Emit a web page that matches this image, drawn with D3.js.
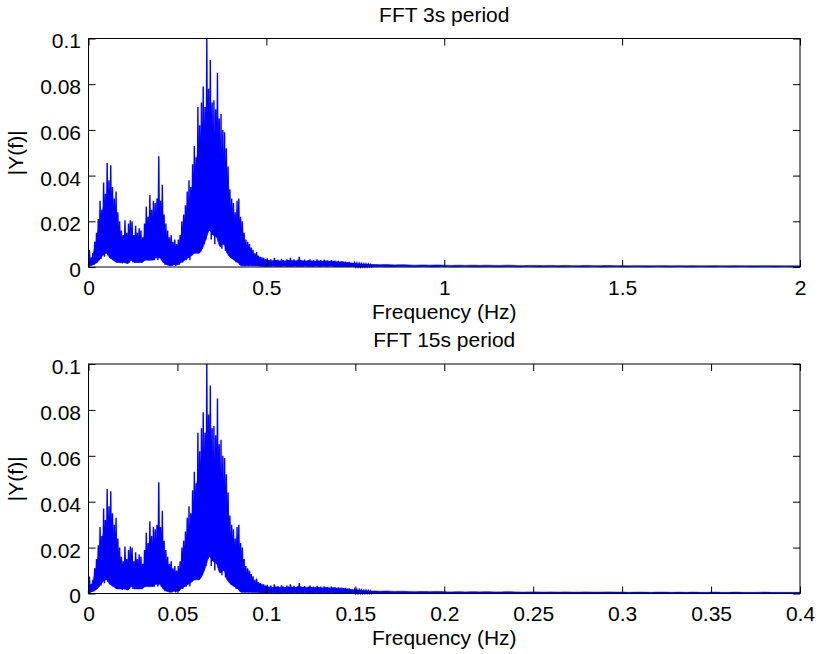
<!DOCTYPE html>
<html><head><meta charset="utf-8">
<script src="https://cdn.jsdelivr.net/npm/d3@7"></script>
<style>
body{margin:0;background:#fff}
text{font-family:"Liberation Sans",Arial,Helvetica,sans-serif;fill:#000}
</style></head><body>
<svg id="c" width="818" height="654"></svg>
<script>
// ---- data (3 s panel frequencies; the 15 s panel shows the same spectrum at 1/5 the frequency) ----
const coreStepHz = 0.005;   // bins 0 .. 0.795 Hz
const tailStepHz = 0.02;    // bins 0.80 .. 2.00 Hz
const bodyStepHz = 0.01;    // solid-band level, bins 0 .. 0.79 Hz
const corePeak = [
0.0074,0.0040,0.0060,0.0110,0.0150,0.0210,0.0290,0.0250,0.0370,0.0320,
0.0455,0.0380,0.0445,0.0350,0.0300,0.0330,0.0240,0.0200,0.0160,0.0140,
0.0205,0.0150,0.0190,0.0205,0.0200,0.0140,0.0180,0.0150,0.0170,0.0160,
0.0130,0.0190,0.0265,0.0220,0.0315,0.0250,0.0290,0.0280,0.0300,0.0485,
0.0290,0.0360,0.0230,0.0190,0.0160,0.0130,0.0140,0.0110,0.0120,0.0100,
0.0120,0.0140,0.0200,0.0230,0.0270,0.0330,0.0380,0.0350,0.0450,0.0530,
0.0480,0.0700,0.0620,0.0720,0.0790,0.0700,0.1000,0.0780,0.0906,0.0720,
0.0730,0.0690,0.0850,0.0650,0.0670,0.0600,0.0590,0.0520,0.0440,0.0340,
0.0300,0.0280,0.0240,0.0290,0.0300,0.0220,0.0200,0.0150,0.0120,0.0110,
0.0100,0.0085,0.0075,0.0060,0.0065,0.0050,0.0045,0.0042,0.0040,0.0035,
0.0038,0.0030,0.0034,0.0028,0.0040,0.0030,0.0032,0.0027,0.0036,0.0030,
0.0028,0.0034,0.0030,0.0040,0.0029,0.0033,0.0028,0.0031,0.0045,0.0030,
0.0029,0.0032,0.0027,0.0030,0.0034,0.0028,0.0030,0.0027,0.0033,0.0028,
0.0030,0.0026,0.0031,0.0028,0.0029,0.0026,0.0030,0.0027,0.0028,0.0025,
0.0027,0.0024,0.0026,0.0023,0.0024,0.0021,0.0022,0.0019,0.0018,0.0017,
0.0016,0.0015,0.0015,0.0014,0.0013,0.0013,0.0012,0.0012,0.0011,0.0011];
const coreFloor = [
0.0003,0.0005,0.0008,0.0010,0.0015,0.0020,0.0030,0.0035,0.0050,0.0045,
0.0060,0.0050,0.0040,0.0045,0.0030,0.0030,0.0020,0.0025,0.0020,0.0015,
0.0020,0.0020,0.0015,0.0020,0.0030,0.0020,0.0020,0.0030,0.0020,0.0025,
0.0020,0.0030,0.0030,0.0035,0.0030,0.0040,0.0030,0.0030,0.0040,0.0030,
0.0040,0.0030,0.0020,0.0010,0.0010,0.0015,0.0005,0.0005,0.0010,0.0005,
0.0010,0.0010,0.0020,0.0020,0.0030,0.0030,0.0040,0.0030,0.0050,0.0070,
0.0060,0.0080,0.0060,0.0070,0.0080,0.0100,0.0120,0.0150,0.0160,0.0120,
0.0140,0.0100,0.0130,0.0110,0.0090,0.0080,0.0100,0.0070,0.0060,0.0050,
0.0040,0.0050,0.0030,0.0020,0.0020,0.0010,0.0005,0.0010,0.0005,0.0010,
0.0005,0.0008,0.0005,0.0005,0.0005,0.0005,0.0004,0.0004,0.0003,0.0003,
0.0003,0.0004,0.0003,0.0003,0.0004,0.0003,0.0003,0.0004,0.0003,0.0003,
0.0004,0.0003,0.0003,0.0004,0.0003,0.0003,0.0004,0.0003,0.0003,0.0004,
0.0003,0.0003,0.0004,0.0003,0.0003,0.0004,0.0003,0.0003,0.0004,0.0003,
0.0003,0.0003,0.0004,0.0003,0.0003,0.0003,0.0004,0.0003,0.0003,0.0003,
0.0002,0.0003,0.0002,0.0002,0.0003,0.0002,0.0002,0.0002,0.0003,0.0002,
0.0002,0.0002,0.0002,0.0002,0.0002,0.0002,0.0002,0.0002,0.0002,0.0002];
const bodyLevel = [
0.0020,0.0045,0.0100,0.0180,0.0250,0.0300,0.0300,0.0230,0.0160,0.0120,
0.0120,0.0130,0.0120,0.0110,0.0110,0.0110,0.0140,0.0190,0.0210,0.0220,
0.0190,0.0130,0.0095,0.0085,0.0075,0.0075,0.0120,0.0170,0.0240,0.0330,
0.0430,0.0530,0.0600,0.0640,0.0620,0.0580,0.0520,0.0440,0.0360,0.0280,
0.0210,0.0160,0.0140,0.0110,0.0075,0.0055,0.0045,0.0038,0.0032,0.0030,
0.0026,0.0025,0.0025,0.0026,0.0025,0.0025,0.0026,0.0025,0.0025,0.0025,
0.0024,0.0023,0.0023,0.0024,0.0023,0.0023,0.0022,0.0022,0.0021,0.0020,
0.0019,0.0018,0.0017,0.0016,0.0014,0.0013,0.0012,0.0011,0.0010,0.0010];
const tailPeak = [
0.0011,0.0010,0.0011,0.0009,0.0010,0.0009,0.0008,0.0009,0.0008,0.0009,
0.0008,0.0007,0.0008,0.0007,0.0008,0.0007,0.0008,0.0007,0.0007,0.0008,
0.0007,0.0006,0.0007,0.0007,0.0006,0.0007,0.0006,0.0007,0.0006,0.0006,
0.0007,0.0006,0.0006,0.0007,0.0006,0.0006,0.0005,0.0006,0.0006,0.0005,
0.0006,0.0006,0.0005,0.0006,0.0005,0.0006,0.0005,0.0005,0.0006,0.0005,
0.0005,0.0006,0.0005,0.0005,0.0005,0.0006,0.0005,0.0005,0.0005,0.0005,
0.0005];
const tailFloor = [
0.0001,0.0002,0.0001,0.0001,0.0002,0.0001,0.0001,0.0002,0.0001,0.0001,
0.0002,0.0001,0.0001,0.0002,0.0001,0.0001,0.0002,0.0001,0.0001,0.0002,
0.0001,0.0001,0.0002,0.0001,0.0001,0.0002,0.0001,0.0001,0.0002,0.0001,
0.0001,0.0002,0.0001,0.0001,0.0002,0.0001,0.0001,0.0002,0.0001,0.0001,
0.0002,0.0001,0.0001,0.0002,0.0001,0.0001,0.0002,0.0001,0.0001,0.0002,
0.0001,0.0001,0.0002,0.0001,0.0001,0.0002,0.0001,0.0001,0.0002,0.0001,
0.0001];
const xTicks3s = [0, 0.5, 1, 1.5, 2];
const xTicks15s = [0, 0.05, 0.1, 0.15, 0.2, 0.25, 0.3, 0.35, 0.4];
const yTicks = [0, 0.02, 0.04, 0.06, 0.08, 0.1];
const titles = ["FFT 3s period", "FFT 15s period"];
const xMaxes = [2, 0.4];
const periodRatio = [1, 5];

// ---- build bins ----
const coreBins = corePeak.map((v, i) => ({f: i * coreStepHz, w: coreStepHz, hi: v, lo: coreFloor[i]}));
const tailBins = tailPeak.map((v, i) => ({f: 0.8 + i * tailStepHz, w: tailStepHz, hi: v, lo: tailFloor[i]}));
const bins = coreBins.concat(tailBins);
const body = bodyLevel.map((v, i) => ({f: i * bodyStepHz, hi: v, lo: coreFloor[2 * i]}))
  .concat(tailBins.map(b => ({f: b.f, hi: b.hi, lo: b.lo})));

const svg = d3.select("#c");
const L = 88.5, R = 800;
const panelsY = [[38.5, 267], [364, 593.5]];
const FS = 21;

panelsY.forEach(([top, bottom], p) => {
  const x = d3.scaleLinear().domain([0, xMaxes[p]]).range([L, R]);
  const y = d3.scaleLinear().domain([0, 0.1]).range([bottom, top]);
  const g = svg.append("g");
  const ticksX = p === 0 ? xTicks3s : xTicks15s;
  const fmt = d => String(+d.toFixed(2));
  const k = periodRatio[p];

  // solid part of the dense band
  g.append("path")
    .attr("d", d3.area().curve(d3.curveMonotoneX)
      .x(d => x(d.f / k)).y0(d => y(d.lo)).y1(d => y(d.hi))(body.filter(d => d.f / k <= xMaxes[p])))
    .attr("fill", "#0000ff").attr("stroke", "#0000ff").attr("stroke-width", 0.6);

  // spectrum as a dense zig-zag trace
  const pts = [];
  coreBins.forEach(b => {
    pts.push([b.f / k, b.lo]);
    pts.push([(b.f + b.w / 2) / k, b.hi]);
  });
  g.append("path")
    .attr("d", d3.line().x(d => x(d[0])).y(d => y(d[1]))(pts.filter(d => d[0] <= xMaxes[p])))
    .attr("fill", "none").attr("stroke", "#0000ff").attr("stroke-width", 1.4);

  // axes
  const ax = (gen, tr) => {
    const a = g.append("g").attr("transform", tr).call(gen);
    a.select(".domain").remove();
    a.selectAll("line").attr("stroke", "#000");
    a.selectAll("text").style("font-size", FS + "px").attr("fill", "#000");
    return a;
  };
  ax(d3.axisBottom(x).tickValues(ticksX).tickFormat(fmt).tickSizeInner(-7).tickSizeOuter(0).tickPadding(13),
     `translate(0,${bottom})`);
  ax(d3.axisTop(x).tickValues(ticksX).tickFormat("").tickSizeInner(-7).tickSizeOuter(0), `translate(0,${top})`);
  const ya = ax(d3.axisLeft(y).tickValues(yTicks).tickFormat(fmt).tickSizeInner(-7).tickSizeOuter(0).tickPadding(7.5),
     `translate(${L},0)`);
  ya.selectAll("text").attr("dy", "0.45em");
  ax(d3.axisRight(y).tickValues(yTicks).tickFormat("").tickSizeInner(-7).tickSizeOuter(0), `translate(${R},0)`);

  g.append("rect").attr("x", L).attr("y", top).attr("width", R - L).attr("height", bottom - top)
    .attr("fill", "none").attr("stroke", "#000").attr("stroke-width", 1);

  // labels
  const cx = (L + R) / 2;
  g.append("text").attr("x", cx).attr("y", top - 17).attr("text-anchor", "middle")
    .style("font-size", FS + "px").text(titles[p]);
  g.append("text").attr("x", cx).attr("y", bottom + 51.5).attr("text-anchor", "middle")
    .style("font-size", FS + "px").text("Frequency (Hz)");
  g.append("text").attr("transform", `translate(23,${(top + bottom) / 2}) rotate(-90)`)
    .attr("text-anchor", "middle").style("font-size", FS + "px").text("|Y(f)|");
});
</script></body></html>
